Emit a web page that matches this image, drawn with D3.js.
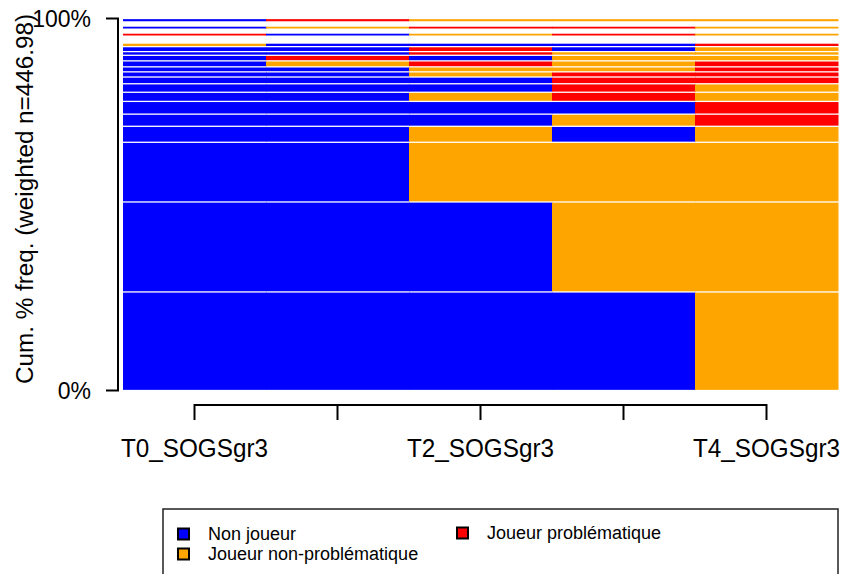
<!DOCTYPE html>
<html>
<head>
<meta charset="utf-8">
<script src="https://cdn.jsdelivr.net/npm/d3@7"></script>
<style>
  html, body { margin: 0; padding: 0; background: #ffffff; }
  svg { display: block; font-family: "Liberation Sans", Arial, Helvetica, sans-serif; }
</style>
</head>
<body>
<svg id="chart" width="845" height="574"></svg>
<script>
// ---------------- data ----------------
// states (alphabet) and their colours
const stateCodes  = ["N", "J", "P"];
const stateLabels = ["Non joueur", "Joueur non-problématique", "Joueur problématique"];
const stateColors = ["#0000FF", "#FFA500", "#FF0000"];

// time points (columns) and the tick labels that are printed
const timePoints = ["T0_SOGSgr3", "T1_SOGSgr3", "T2_SOGSgr3", "T3_SOGSgr3", "T4_SOGSgr3"];
const shownTimeLabels = ["T0_SOGSgr3", "T2_SOGSgr3", "T4_SOGSgr3"];

// sequences, most frequent first (drawn from bottom up); null = rare sequences too thin to be visible
const sequences = [
  "N-N-N-N-J",
  "N-N-N-J-J",
  "N-N-J-J-J",
  "N-N-J-N-J",
  "N-N-N-J-P",
  "N-N-N-N-P",
  "N-N-J-P-J",
  "N-N-N-P-J",
  "N-N-N-P-P",
  "N-N-J-P-P",
  "N-N-J-J-P",
  "N-J-P-J-P",
  "N-P-N-J-J",
  "N-N-P-J-J",
  "N-N-P-N-J",
  "J-N-N-N-P",
  null,
  "P-N-J-P-J",
  null,
  "N-J-P-P-J",
  null,
  "N-P-J-J-J"
];
// weighted frequencies of each sequence (total weighted n = 446.98)
const weights = [
  118.4, 108.1, 71.7, 19.2, 14.6, 15.3, 11.0, 10.2, 8.1, 6.2, 6.0,
  7.2, 6.7, 4.4, 6.0, 4.3, 8.3, 3.7, 4.7, 3.7, 5.0, 4.1
];
const weightedN = 446.98;

// y axis ticks
const yTicks = [0, 100];

// ---------------- drawing ----------------
const svg = d3.select("#chart");
const plot = { left: 123, right: 838, top: 18.5, bottom: 390.5 };

const x = d3.scaleBand().domain(timePoints).range([plot.left, plot.right]).padding(0);
const y = d3.scaleLinear().domain([0, 100]).range([plot.bottom, plot.top]);
const color = d3.scaleOrdinal().domain(stateCodes).range(stateColors);

const totalW = d3.sum(weights);
let cum = 0;
const rows = sequences.map((s, i) => {
  const pct = weights[i] / totalW * 100;
  const r = { seq: s ? s.split("-") : null, y0: cum, y1: cum + pct };
  cum += pct;
  return r;
});

const gap = 0.65;
const gRows = svg.append("g");
rows.filter(r => r.seq).forEach(r => {
  const top = y(r.y1) + gap;
  const h = Math.max(0.6, y(r.y0) - y(r.y1) - 2 * gap);
  gRows.selectAll(null)
    .data(r.seq.map((st, j) => ({ st, t: timePoints[j] })))
    .enter().append("rect")
    .attr("x", d => x(d.t))
    .attr("width", x.bandwidth() + 0.5)
    .attr("y", top)
    .attr("height", h)
    .attr("fill", d => color(d.st));
});

// ---- y axis ----
const axisX = 118;
svg.append("line")
  .attr("x1", axisX).attr("x2", axisX)
  .attr("y1", y(0)).attr("y2", y(100))
  .attr("stroke", "#000").attr("stroke-width", 2);
yTicks.forEach(t => {
  svg.append("line")
    .attr("x1", axisX - 12).attr("x2", axisX + 1)
    .attr("y1", y(t)).attr("y2", y(t))
    .attr("stroke", "#000").attr("stroke-width", 2);
  svg.append("text")
    .attr("x", 91).attr("y", y(t))
    .attr("dy", "0.36em")
    .attr("text-anchor", "end")
    .attr("font-size", 23)
    .attr("fill", "#000")
    .text(t + "%");
});
svg.append("text")
  .attr("transform", "translate(33,199) rotate(-90)")
  .attr("text-anchor", "middle")
  .attr("font-size", 23)
  .attr("textLength", 370)
  .attr("lengthAdjust", "spacingAndGlyphs")
  .attr("fill", "#000")
  .text("Cum. % freq. (weighted n=" + weightedN + ")");

// ---- x axis ----
const axisY = 405;
const centers = timePoints.map(t => x(t) + x.bandwidth() / 2);
svg.append("line")
  .attr("x1", centers[0]).attr("x2", centers[centers.length - 1])
  .attr("y1", axisY).attr("y2", axisY)
  .attr("stroke", "#000").attr("stroke-width", 2);
timePoints.forEach((t, i) => {
  svg.append("line")
    .attr("x1", centers[i]).attr("x2", centers[i])
    .attr("y1", axisY - 1).attr("y2", axisY + 15)
    .attr("stroke", "#000").attr("stroke-width", 2);
});
shownTimeLabels.forEach(t => {
  svg.append("text")
    .attr("x", x(t) + x.bandwidth() / 2)
    .attr("y", 457)
    .attr("text-anchor", "middle")
    .attr("font-size", 25)
    .attr("textLength", 147)
    .attr("lengthAdjust", "spacingAndGlyphs")
    .attr("fill", "#000")
    .text(t);
});

// ---- legend ----
svg.append("rect")
  .attr("x", 163).attr("y", 509)
  .attr("width", 675).attr("height", 90)
  .attr("fill", "none").attr("stroke", "#222").attr("stroke-width", 1.5);
const legendPos = [
  { x: 178, y: 534 },   // Non joueur
  { x: 178, y: 554 },   // Joueur non-problématique
  { x: 457, y: 533 }    // Joueur problématique
];
stateCodes.forEach((c, i) => {
  const p = legendPos[i];
  svg.append("rect")
    .attr("x", p.x).attr("y", p.y - 5.5)
    .attr("width", 11).attr("height", 11)
    .attr("fill", color(c))
    .attr("stroke", "#000").attr("stroke-width", 2);
  svg.append("text")
    .attr("x", p.x + 30).attr("y", p.y)
    .attr("dy", "0.36em")
    .attr("font-size", 18)
    .attr("fill", "#000")
    .text(stateLabels[i]);
});
</script>
</body>
</html>
